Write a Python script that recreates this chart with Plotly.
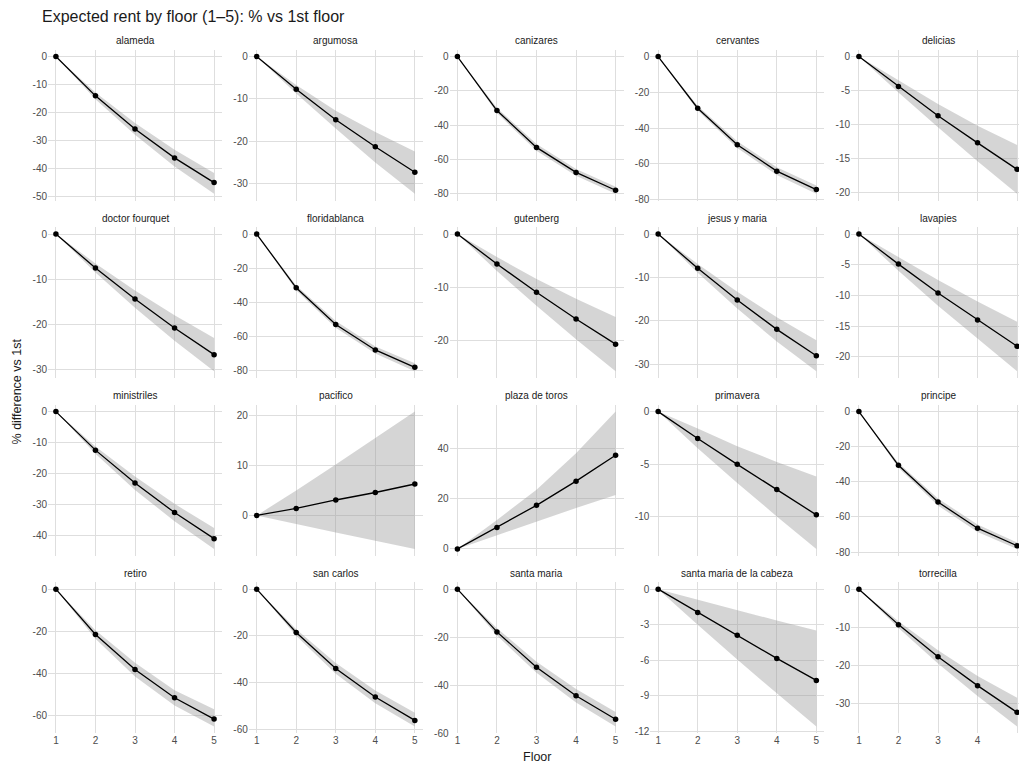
import plotly.graph_objects as go

floors = [1, 2, 3, 4, 5]

neighborhoods = [
    "alameda", "argumosa", "canizares", "cervantes", "delicias",
    "doctor fourquet", "floridablanca", "gutenberg", "jesus y maria", "lavapies",
    "ministriles", "pacifico", "plaza de toros", "primavera", "principe",
    "retiro", "san carlos", "santa maria", "santa maria de la cabeza", "torrecilla",
]

# Estimated % difference vs 1st floor (floors 1..5)
estimate = [
    [0, -14.0, -25.8, -36.1, -44.9],
    [0, -7.7, -14.9, -21.3, -27.3],
    [0, -31.5, -53.0, -67.6, -78.0],
    [0, -28.9, -49.3, -64.1, -74.4],
    [0, -4.4, -8.7, -12.7, -16.6],
    [0, -7.5, -14.4, -20.8, -26.7],
    [0, -31.6, -53.2, -68.2, -78.4],
    [0, -5.6, -10.9, -15.9, -20.6],
    [0, -7.9, -15.2, -22.0, -28.1],
    [0, -4.9, -9.6, -14.0, -18.3],
    [0, -12.4, -23.0, -32.5, -40.9],
    [0, 1.4, 3.1, 4.6, 6.3],
    [0, 8.5, 17.3, 26.9, 37.2],
    [0, -2.56, -5.03, -7.44, -9.85],
    [0, -30.6, -51.5, -66.4, -76.4],
    [0, -21.5, -38.2, -51.6, -61.7],
    [0, -18.6, -34.0, -46.3, -56.3],
    [0, -17.8, -32.5, -44.4, -54.2],
    [0, -1.97, -3.9, -5.85, -7.71],
    [0, -9.3, -17.7, -25.3, -32.3],
]

lower = [
    [0, -15.2, -27.9, -39.2, -48.9],
    [0, -8.7, -17.0, -25.0, -32.4],
    [0, -33.0, -55.0, -69.5, -80.1],
    [0, -30.2, -51.2, -66.2, -76.8],
    [0, -5.3, -10.4, -15.4, -20.2],
    [0, -8.5, -16.3, -23.6, -30.4],
    [0, -33.0, -55.2, -70.3, -80.8],
    [0, -6.9, -13.4, -19.7, -25.7],
    [0, -8.9, -17.2, -24.8, -31.7],
    [0, -6.0, -11.7, -17.1, -22.4],
    [0, -13.6, -25.2, -35.3, -44.2],
    [0, -1.7, -3.4, -5.1, -6.7],
    [0, 5.3, 10.7, 16.2, 21.4],
    [0, -3.5, -6.8, -10.0, -13.1],
    [0, -32.0, -53.5, -68.5, -78.2],
    [0, -23.5, -41.5, -55.3, -65.2],
    [0, -20.0, -36.3, -49.0, -58.9],
    [0, -19.3, -34.8, -47.2, -57.2],
    [0, -3.0, -5.95, -8.8, -11.6],
    [0, -10.2, -19.5, -28.0, -36.0],
]

upper = [
    [0, -12.8, -23.7, -33.2, -41.5],
    [0, -6.7, -12.8, -17.8, -22.4],
    [0, -30.0, -51.0, -65.6, -76.0],
    [0, -27.6, -47.4, -62.0, -72.2],
    [0, -3.5, -7.0, -10.2, -13.0],
    [0, -6.5, -12.5, -18.0, -23.0],
    [0, -30.2, -51.2, -66.1, -76.0],
    [0, -4.3, -8.4, -12.1, -15.5],
    [0, -6.9, -13.3, -19.2, -24.5],
    [0, -3.8, -7.5, -11.0, -14.3],
    [0, -11.2, -20.9, -29.7, -37.5],
    [0, 5.0, 10.2, 15.5, 20.8],
    [0, 11.5, 23.5, 38.0, 54.5],
    [0, -1.6, -3.3, -4.8, -6.2],
    [0, -29.2, -49.5, -64.3, -74.5],
    [0, -19.5, -35.0, -48.0, -57.0],
    [0, -17.2, -31.7, -43.5, -53.0],
    [0, -16.3, -30.2, -41.6, -51.2],
    [0, -0.9, -1.8, -2.65, -3.5],
    [0, -8.4, -16.0, -22.8, -28.5],
]

y_ticks = [
    [0, -10, -20, -30, -40, -50],
    [0, -10, -20, -30],
    [0, -20, -40, -60, -80],
    [0, -20, -40, -60, -80],
    [0, -5, -10, -15, -20],
    [0, -10, -20, -30],
    [0, -20, -40, -60, -80],
    [0, -10, -20],
    [0, -10, -20, -30],
    [0, -5, -10, -15, -20],
    [0, -10, -20, -30, -40],
    [0, 10, 20],
    [0, 20, 40],
    [0, -5, -10],
    [0, -20, -40, -60, -80],
    [0, -20, -40, -60],
    [0, -20, -40, -60],
    [0, -20, -40, -60],
    [0, -3, -6, -9, -12],
    [0, -10, -20, -30],
]

title_text = "Expected rent by floor (1\u20135): % vs 1st floor"
x_title = "Floor"
y_title = "% difference vs 1st"

W, H = 1019, 771
col_left0, col_step, panel_w = 48, 200.75, 174
row_top0, row_step, panel_h = 50, 178.7, 152
x_lo, x_hi = 0.8, 5.2

FONT = "Liberation Sans, Arial, sans-serif"
GRID = "#DEDEDE"
TICK_COL = "#4D4D4D"


def px(v):
    return v / W


def py(v):
    return 1 - v / H


fig = go.Figure()
annotations = []
layout_axes = {}

for i, name in enumerate(neighborhoods):
    r, c = divmod(i, 5)
    n = i + 1
    xa = "x" if n == 1 else f"x{n}"
    ya = "y" if n == 1 else f"y{n}"
    xkey = "xaxis" if n == 1 else f"xaxis{n}"
    ykey = "yaxis" if n == 1 else f"yaxis{n}"

    left = col_left0 + c * col_step
    right = left + panel_w
    xr = [x_lo, x_hi]
    if right > W:
        xr = [x_lo, x_lo + (W - left) / panel_w * (x_hi - x_lo)]
        right = W
    top = row_top0 + r * row_step
    bottom = top + panel_h

    lo_v, hi_v = min(lower[i]), max(upper[i])
    span = hi_v - lo_v
    yr = [lo_v - 0.05 * span, hi_v + 0.05 * span]

    # ribbon
    fig.add_trace(go.Scatter(
        x=floors + floors[::-1],
        y=upper[i] + lower[i][::-1],
        fill="toself", fillcolor="rgba(150,150,150,0.4)",
        line=dict(width=0), mode="lines", hoverinfo="skip",
        xaxis=xa, yaxis=ya, showlegend=False,
    ))
    # estimate line
    fig.add_trace(go.Scatter(
        x=floors, y=estimate[i], mode="lines+markers",
        line=dict(color="black", width=1.3),
        marker=dict(color="black", size=5.5),
        xaxis=xa, yaxis=ya, showlegend=False,
    ))

    layout_axes[xkey] = dict(
        domain=[px(left), min(px(right), 1.0)], range=xr, anchor=ya,
        tickvals=floors, ticktext=[str(f) for f in floors],
        showticklabels=(r == 3), showgrid=True, gridcolor=GRID, gridwidth=1.2,
        zeroline=False, showline=False, ticks="",
        tickfont=dict(size=10, color=TICK_COL, family=FONT),
    )
    layout_axes[ykey] = dict(
        domain=[py(bottom), py(top)], range=yr, anchor=xa,
        tickvals=y_ticks[i], ticktext=[str(v) for v in y_ticks[i]],
        showgrid=True, gridcolor=GRID, gridwidth=1.2,
        zeroline=False, showline=False, ticks="",
        tickfont=dict(size=10, color=TICK_COL, family=FONT),
    )
    annotations.append(dict(
        text=name, x=px(left + panel_w / 2), y=py(top - 9),
        xref="paper", yref="paper",
        showarrow=False, xanchor="center", yanchor="middle",
        font=dict(size=10, color="#1A1A1A", family=FONT),
    ))

annotations.append(dict(
    text=x_title, x=px(536.5), y=py(762), xref="paper", yref="paper",
    showarrow=False, xanchor="center", yanchor="middle",
    font=dict(size=12.5, color="#1A1A1A", family=FONT),
))
annotations.append(dict(
    text=y_title, x=px(17), y=py(394), xref="paper", yref="paper",
    showarrow=False, xanchor="center", yanchor="middle", textangle=-90,
    font=dict(size=12.5, color="#1A1A1A", family=FONT),
))
annotations.append(dict(
    text=title_text, x=px(40), y=py(17), xref="paper", yref="paper",
    showarrow=False, xanchor="left", yanchor="middle",
    font=dict(size=16, color="#1A1A1A", family=FONT),
))

fig.update_layout(
    width=W, height=H,
    margin=dict(l=0, r=0, t=0, b=0),
    paper_bgcolor="white", plot_bgcolor="white",
    annotations=annotations,
    font=dict(family=FONT),
    **layout_axes,
)

# remove the default page margin so the figure fills the window exactly
fig.write_html(
    "out.html",
    config={"displayModeBar": False},
    post_script="document.body.style.margin='0';document.body.style.overflow='hidden';",
)
